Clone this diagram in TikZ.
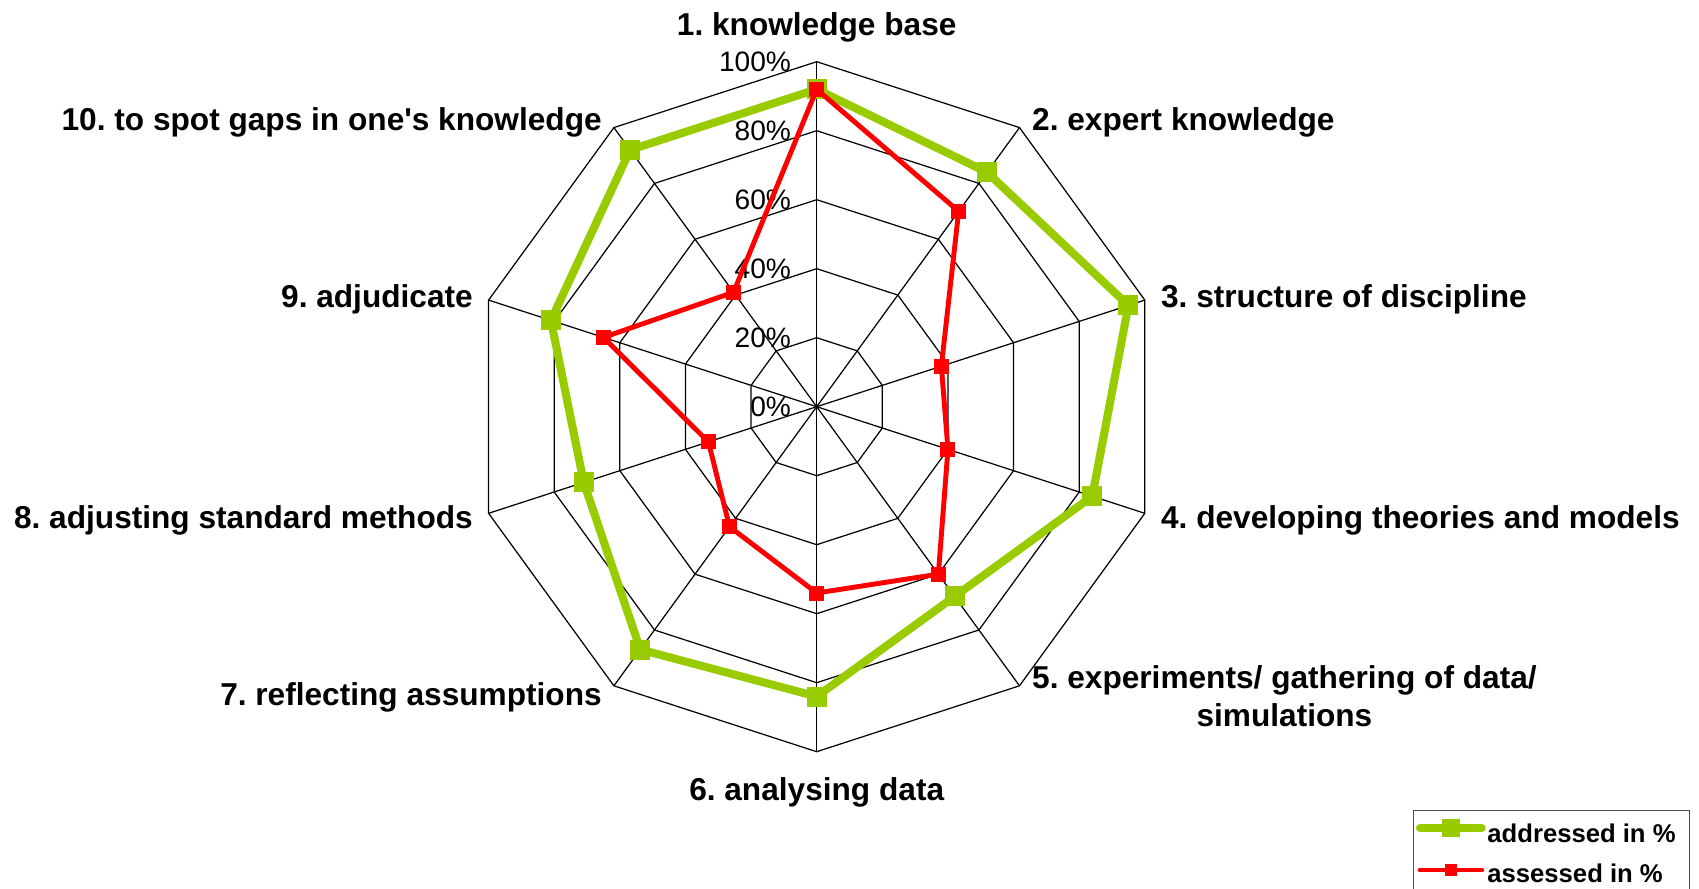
\documentclass[tikz,border=0pt]{standalone}
\usepackage{fontspec}
\setmainfont{Liberation Sans}
\frenchspacing
\definecolor{verde}{HTML}{99CC00}
\definecolor{rojo}{HTML}{FF0000}
\tikzset{
  rejilla/.style={black, line width=0.35pt},
  etiqueta/.style={font=\bfseries\fontsize{9}{10.8}\selectfont, inner sep=0pt},
  escala/.style={font=\fontsize{8}{9.6}\selectfont, anchor=east, inner sep=0pt},
  leyenda/.style={font=\bfseries\fontsize{7.3}{8.8}\selectfont, anchor=base west, inner sep=0pt},
  lineaverde/.style={verde, line width=2.3pt, line join=round},
  linearoja/.style={rojo, line width=1.4pt, line join=round},
  marcaverde/.style={fill=verde, minimum size=0.2cm, inner sep=0pt},
  marcaroja/.style={fill=rojo, minimum size=0.15cm, inner sep=0pt},
}
\begin{document}
\begin{tikzpicture}
\useasboundingbox (0,0) rectangle (16.99,8.88);
\clip (0,0) rectangle (16.99,8.88);
\begin{scope}[shift={(8.167,4.813)}]
  \coordinate (o) at (0,0);
  % Rejilla
  \foreach \r in {0.69,1.38,2.07,2.76,3.45} {
    \draw[rejilla] (90:\r) -- (54:\r) -- (18:\r) -- (-18:\r) -- (-54:\r) -- (-90:\r)
      -- (-126:\r) -- (-162:\r) -- (162:\r) -- (126:\r) -- cycle;
  }
  \foreach \i in {1,...,10} {
    \coordinate (v\i) at ({126-36*\i}:3.45);
    \draw[rejilla] (o) -- (v\i);
  }
  % Escala
  \foreach \p [count=\k from 0] in {0,20,40,60,80,100} {
    \node[escala] (t\p) at (-0.25,0.69*\k) {\p\%};
  }
  % Datos
  \foreach \v [count=\i] in {92,84,95,84,68,84,87,71,81,92} {
    \coordinate (g\i) at ({126-36*\i}:{3.45*\v/100});
  }
  \foreach \v [count=\i] in {92,70,38,40,60,54,43,33,65,41} {
    \coordinate (r\i) at ({126-36*\i}:{3.45*\v/100});
  }
  \draw[lineaverde] (g1) -- (g2) -- (g3) -- (g4) -- (g5) -- (g6) -- (g7) -- (g8) -- (g9) -- (g10) -- cycle;
  \foreach \i in {1,...,10} \node[marcaverde] (mg\i) at (g\i) {};
  \draw[linearoja] (r1) -- (r2) -- (r3) -- (r4) -- (r5) -- (r6) -- (r7) -- (r8) -- (r9) -- (r10) -- cycle;
  \foreach \i in {1,...,10} \node[marcaroja] (mr\i) at (r\i) {};
  % Etiquetas
  \node[etiqueta, anchor=base] (l1) at (0,3.717) {1. knowledge base};
  \node[etiqueta, anchor=base west] (l2) at (2.148,2.767) {2. expert knowledge};
  \node[etiqueta, anchor=base west] (l3) at (3.437,0.99) {3. structure of discipline};
  \node[etiqueta, anchor=base west] (l4) at (3.437,-1.22) {4. developing theories and models};
  \node[etiqueta, anchor=north west, align=center] (l5) at (2.148,-2.583) {5. experiments/ gathering of data/\\simulations};
  \node[etiqueta, anchor=base] (l6) at (0,-3.94) {6. analysing data};
  \node[etiqueta, anchor=base east] (l7) at (-2.143,-2.986) {7. reflecting assumptions};
  \node[etiqueta, anchor=base east] (l8) at (-3.432,-1.22) {8. adjusting standard methods};
  \node[etiqueta, anchor=base east] (l9) at (-3.432,0.99) {9. adjudicate};
  \node[etiqueta, anchor=base east] (l10) at (-2.143,2.767) {10. to spot gaps in one\textquotesingle s knowledge};
\end{scope}
% Leyenda
\draw[black!70, line width=0.4pt] (14.133,-0.5) rectangle (16.893,0.773);
\coordinate (ga) at (14.20,0.597);
\coordinate (gb) at (14.817,0.597);
\draw[lineaverde, line cap=round] (ga) -- (gb);
\node[marcaverde, minimum size=0.18cm] (lg) at (14.507,0.597) {};
\node[leyenda] (tg) at (14.867,0.46) {addressed in \%};
\coordinate (ra) at (14.20,0.18);
\coordinate (rb) at (14.817,0.18);
\draw[linearoja, line cap=round] (ra) -- (rb);
\node[marcaroja, minimum size=0.12cm] (lr) at (14.507,0.18) {};
\node[leyenda] (tr) at (14.867,0.06) {assessed in \%};
\end{tikzpicture}
\end{document}
